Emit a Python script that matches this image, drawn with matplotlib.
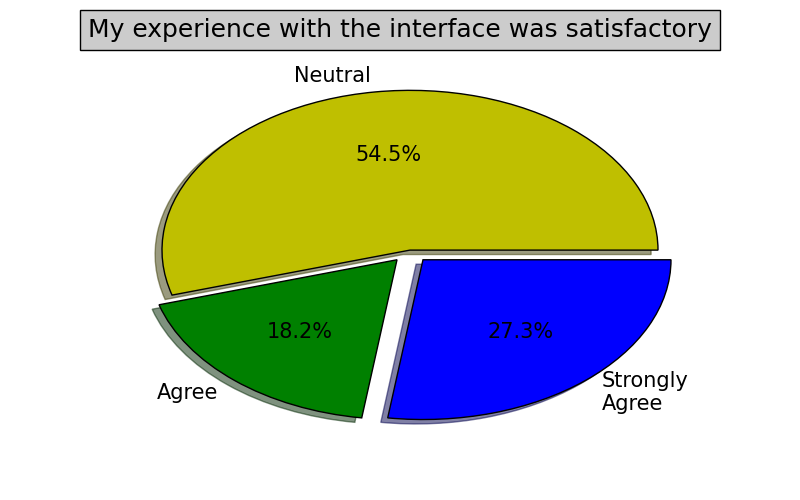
import matplotlib
matplotlib.use('Agg')
import matplotlib.pyplot as plt

labels = ['Neutral', 'Agree', 'Strongly\nAgree']
counts = [6, 2, 3]
colors = ['y', 'g', 'b']
explode = [0.0, 0.08, 0.08]

fig = plt.figure(figsize=(8, 5), dpi=100)
ax = fig.add_axes([0.125, 0.11, 0.775, 0.77])
ax.pie(counts, labels=labels, colors=colors, explode=explode,
       autopct='%1.1f%%', shadow=True, startangle=0,
       wedgeprops={'edgecolor': 'black', 'linewidth': 1},
       textprops={'fontsize': 15})
ax.set_aspect('auto')
ax.set_xlim(-1.25, 1.25)
ax.set_ylim(-1.22, 1.19)
ax.axis('off')
fig.text(0.5, 0.94, 'My experience with the interface was satisfactory',
         ha='center', va='center', fontsize=18,
         bbox=dict(facecolor='#cccccc', edgecolor='black', pad=6))
plt.savefig('out.png')
